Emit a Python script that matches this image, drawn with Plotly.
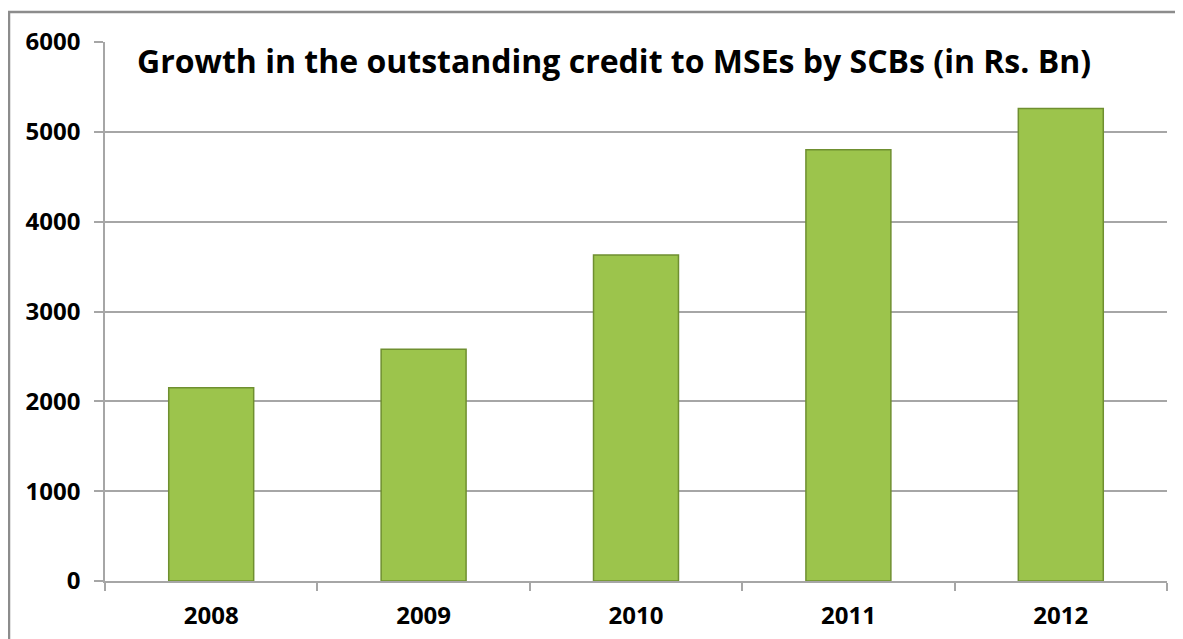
import plotly.graph_objects as go

years = ["2008", "2009", "2010", "2011", "2012"]
credit = [2150, 2580, 3630, 4800, 5260]
y_ticks = [0, 1000, 2000, 3000, 4000, 5000, 6000]
title_text = "Growth in the outstanding credit to MSEs by SCBs (in Rs. Bn)"

W, H = 1175, 631
L, R, T, B = 97, 16, 34, 58
pw, ph = W - L - R, H - T - B
y0px = T + ph  # pixel of y=0 within figure

fig = go.Figure()
fig.add_trace(go.Bar(
    x=years, y=credit,
    marker=dict(color="#9cc44c", line=dict(color="#6f8f30", width=1.5)),
    width=0.4,
))

font = "Open Sans"
fig.update_layout(
    width=W, height=H,
    margin=dict(l=L, r=R, t=T, b=B),
    paper_bgcolor="white", plot_bgcolor="white",
    showlegend=False,
    xaxis=dict(
        type="category", automargin=False,
        showline=True, linecolor="#a6a6a6", linewidth=1.5,
        ticks="outside", tickson="boundaries", ticklen=8, tickcolor="#a6a6a6", tickwidth=1.5,
        tickfont=dict(family=font, size=24, color="black", weight="bold"),
        ticklabelstandoff=12,
        showgrid=False,
    ),
    yaxis=dict(
        range=[0, 6000], tickvals=y_ticks, automargin=False,
        showline=True, linecolor="#a6a6a6", linewidth=1.5,
        ticks="outside", ticklen=9, tickcolor="#a6a6a6", tickwidth=1.5,
        showgrid=True, gridcolor="#a6a6a6", gridwidth=1.5,
        tickfont=dict(family=font, size=24, color="black", weight="bold"),
        ticklabelstandoff=9,
        zeroline=False,
    ),
)

fig.add_annotation(
    text=title_text, xref="paper", yref="paper",
    x=(127 - L) / pw, y=(y0px - 52) / ph, xanchor="left", yanchor="middle",
    showarrow=False,
    font=dict(family=font, size=32, color="black", weight="bold"),
)

# outer chart border
fig.add_shape(
    type="rect", xref="paper", yref="paper",
    x0=(1 - L) / pw, x1=(W + 20 - L) / pw,
    y0=(y0px - H - 20) / ph, y1=(y0px - 4) / ph,
    line=dict(color="#8c8c8c", width=2.5), layer="below",
)

fig.write_html("out.html")
